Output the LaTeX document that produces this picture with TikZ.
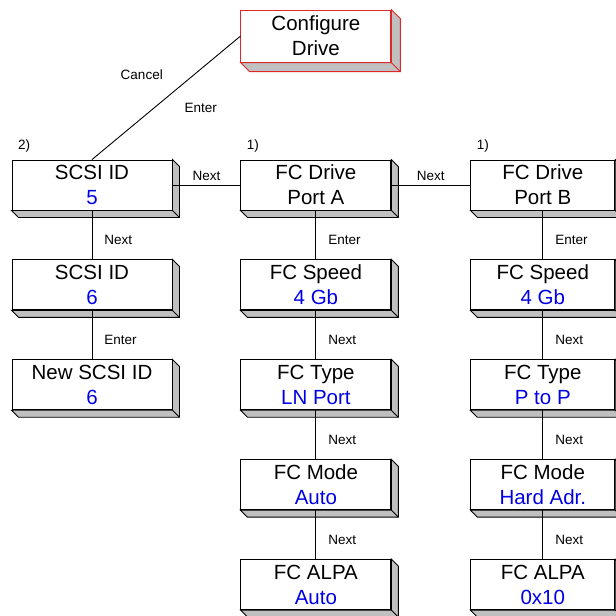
\documentclass[tikz,border=0pt]{standalone}
\usepackage{fontspec}
\setmainfont{Liberation Sans}
\usetikzlibrary{positioning}

\definecolor{valueblue}{RGB}{0,0,230}
\definecolor{framered}{RGB}{222,40,40}
\definecolor{sidegray}{RGB}{192,192,192}
\newcommand{\setval}[1]{\textcolor{valueblue}{#1}}

\begin{document}
\begin{tikzpicture}[
      x=1pt,y=-1pt,
      line width=0.9pt,
      node distance=49pt,
      menubox/.style={
        draw,
        fill=white,
        align=center,
        inner sep=0pt,
        minimum width=150pt,
        minimum height=50pt,
        font=\fontsize{20.5}{25}\selectfont
      },
      widebox/.style={menubox,minimum width=160pt},
      edgebox/.style={menubox,minimum width=144pt},
      topbox/.style={menubox,draw=framered,minimum height=52pt},
      keylabel/.style={font=\fontsize{13.5}{15}\selectfont,inner sep=0pt},
      downlabel/.style={keylabel,pos=0.6,anchor=west,xshift=12pt},
      sidelabel/.style={keylabel,midway,above=4pt},
      tag/.style={keylabel,anchor=south west,xshift=6pt,yshift=7pt}
    ]
    \path[use as bounding box,clip] (0,0) rectangle (616,616);

    % left column
    \node[widebox] (scsi5) at (92,185) {SCSI ID\\\setval{5}};
    \node[widebox,below=of scsi5] (scsi6) {SCSI ID\\\setval{6}};
    \node[widebox,below=of scsi6] (newscsi) {New SCSI ID\\\setval{6}};

    % port A column
    \node[menubox,right=68pt of scsi5] (porta) {FC Drive\\Port A};
    \node[topbox,above=97pt of porta] (config) {Configure\\Drive};
    \node[menubox,below=of porta] (speeda) {FC Speed\\\setval{4 Gb}};
    \node[menubox,below=of speeda] (typea) {FC Type\\\setval{LN Port}};
    \node[menubox,below=of typea] (modea) {FC Mode\\\setval{Auto}};
    \node[menubox,below=of modea] (alpaa) {FC ALPA\\\setval{Auto}};

    % port B column
    \node[edgebox,right=79pt of porta] (portb) {FC Drive\\Port B};
    \node[edgebox,below=of portb] (speedb) {FC Speed\\\setval{4 Gb}};
    \node[edgebox,below=of speedb] (typeb) {FC Type\\\setval{P to P}};
    \node[edgebox,below=of typeb] (modeb) {FC Mode\\\setval{Hard Adr.}};
    \node[edgebox,below=of modeb] (alpab) {FC ALPA\\\setval{0x10}};

    \node[tag] (tagscsi) at (scsi5.north west) {2)};
    \node[tag] (tagporta) at (porta.north west) {1)};
    \node[tag] (tagportb) at (portb.north west) {1)};

    % box sides
    \foreach \n in {scsi5,scsi6,newscsi,porta,speeda,typea,modea,alpaa,
                    portb,speedb,typeb,modeb,alpab}{
      \filldraw[fill=sidegray] (\n.north east) -- ([shift={(7,7)}]\n.north east)
        -- ([shift={(7,7)}]\n.south east) -- ([shift={(7,7)}]\n.south west)
        -- (\n.south west) -- (\n.south east) -- cycle;
      \draw (\n.south east) -- ([shift={(7,7)}]\n.south east);
    }
    \filldraw[draw=framered,fill=sidegray] (config.north east)
      -- ([shift={(9,9)}]config.north east)
      -- ([shift={(9,9)}]config.south east) -- ([shift={(9,9)}]config.south west)
      -- (config.south west) -- (config.south east) -- cycle;
    \draw[framered] (config.south east) -- ([shift={(9,9)}]config.south east);

    % connectors
    \draw (scsi5.north) -- (config.west)
      node[keylabel,pos=0.48,xshift=-21.5pt,yshift=25.5pt] {Cancel}
      node[keylabel,pos=0.6,xshift=19.6pt,yshift=-22.4pt] {Enter};
    \draw (scsi5.east) -- (porta.west) node[sidelabel] {Next};
    \draw (porta.east) -- (portb.west) node[sidelabel] {Next};
    \draw (scsi5.south) -- (scsi6.north) node[downlabel] {Next};
    \draw (scsi6.south) -- (newscsi.north) node[downlabel] {Enter};
    \draw (porta.south) -- (speeda.north) node[downlabel] {Enter};
    \draw (speeda.south) -- (typea.north) node[downlabel] {Next};
    \draw (typea.south) -- (modea.north) node[downlabel] {Next};
    \draw (modea.south) -- (alpaa.north) node[downlabel] {Next};
    \draw (portb.south) -- (speedb.north) node[downlabel] {Enter};
    \draw (speedb.south) -- (typeb.north) node[downlabel] {Next};
    \draw (typeb.south) -- (modeb.north) node[downlabel] {Next};
    \draw (modeb.south) -- (alpab.north) node[downlabel] {Next};
  \end{tikzpicture}
\end{document}
